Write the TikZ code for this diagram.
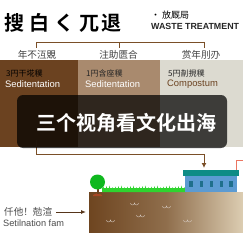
\documentclass[tikz,border=0pt]{standalone}
\usepackage{fontspec}
\setmainfont{Liberation Sans}
\newfontfamily\cjk{Noto Sans CJK SC}
\newfontfamily\cjkb{Noto Sans CJK SC Bold}
\usetikzlibrary{arrows.meta,backgrounds}
\definecolor{wood}{HTML}{6B4220}
\definecolor{line}{HTML}{7A4F28}
\definecolor{midbrown}{HTML}{A98A6E}
\definecolor{pale}{HTML}{DCDAD0}
\definecolor{soilA}{HTML}{6E4520}
\definecolor{soilB}{HTML}{DCCDB2}
\definecolor{leaf}{HTML}{0FB81E}
\definecolor{turf}{HTML}{2FD42F}
\definecolor{wall}{HTML}{5C9BD2}
\definecolor{roofc}{HTML}{0E8C86}
\definecolor{pane}{HTML}{1F6F8C}
\tikzset{
  x=1pt,y=-1pt,
  lab/.style={inner sep=0,font=\cjk\fontsize{9.6}{9.6}\selectfont,text=black!75},
  cap1/.style={inner sep=0,anchor=west,font=\cjk\fontsize{8}{8}\selectfont},
  cap2/.style={inner sep=0,anchor=west,font=\fontsize{9.4}{9.4}\selectfont},
  link/.style={draw=line,line width=1pt},
  bump/.style={draw=white!70!wood,line width=.4pt},
}
\begin{document}
\begin{tikzpicture}
\useasboundingbox (0,0) rectangle (243,243);
\fill[white] (0,0) rectangle (243,243);
% heading
\node[inner sep=0,anchor=west,font=\cjkb\fontsize{20}{20}\selectfont] (title) at (4,23) {搜\hspace{5pt}白\hspace{5pt}く\hspace{5pt}兀\hspace{2pt}退};
\node[inner sep=0,anchor=west,font=\cjk\fontsize{9}{9}\selectfont] (sub) at (151,15.5) {• 放厩局};
\node[inner sep=0,anchor=west,font=\bfseries\fontsize{8.85}{8.85}\selectfont,text=black!85] (waste) at (151,26.5) {WASTE TREATMENT};
% three stage columns
\fill[wood] (0,60) rectangle (78,147);
\fill[midbrown] (78,60) rectangle (160,147);
\fill[pale] (160,60) rectangle (243,147);
\node[lab] (l1) at (37,54.5) {年不沍覞};
\node[lab] (l2) at (118.5,54.5) {注助匮合};
\node[lab] (l3) at (201,54.5) {赏年刖刅};
\coordinate (tl) at (36,43);
\coordinate (tm) at (119,43);
\coordinate (tr) at (204,43);
\draw[link] (36,48) -- (tl) -- (tr) -- (204,48);
\draw[link] (tm) -- (119,48);
\node[cap1,text=black] (c1a) at (6,73.5) {3円干埖穙};
\node[cap2,text=white] (c1b) at (5,84) {Seditentation};
\node[cap1,text=black!85] (c2a) at (86,73.5) {1円含座穙};
\node[cap2,text=white] (c2b) at (85,84) {Seditentation};
\node[cap1,text=black!85] (c3a) at (168,73.5) {5円剒挸穙};
\node[cap2,text=wood] (c3b) at (167,84) {Compostum};
% lower connector into the plant
\coordinate (bl) at (36,154);
\coordinate (br) at (204,154);
\coordinate (roof) at (204,168);
\draw[link] (36,140) -- (bl) -- (br);
\draw[link,-{Latex[length=5pt,width=5pt]}] (br) -- (roof);
\draw[draw=red!55!brown!70,line width=.8pt] (243,160) -- (236.5,160) -- (236.5,170);
% soil strip
\shade[left color=soilA,right color=soilB,middle color=soilA!70!soilB] (89,192) rectangle (243,232);
\foreach \p in {(136,203),(168,206),(112,220),(142,215),(189,220)}{
  \draw[bump] \p ++(-5.5,0) arc[start angle=180,end angle=0,radius=2] arc[start angle=180,end angle=0,radius=2];
}
% grass
\fill[turf] (102,188) rectangle (185,192);
\foreach \g in {102,105,...,183}{
  \fill[turf] (\g,192) -- (\g+1.5,{185.5+mod(\g,4)*.5}) -- (\g+3,192) -- cycle;
}
% tree
\fill[brown!70!red!80!black] (93,195) -- (97.5,193) -- (102,195) -- (102,196) -- (93,196) -- cycle;
\fill[wood] (96.5,186) rectangle (98.5,194);
\fill[leaf] (97.5,182) circle[radius=7.5];
% plant building
\fill[wall] (185,176) rectangle (237,192);
\fill[roofc] (183,170) rectangle (239,176);
\foreach \w in {191,201.5,211.5,221.5,231}{
  \fill[pane] (\w-1.8,181) rectangle (\w+1.8,187);
}
% field label
\node[inner sep=0,anchor=west,font=\cjk\fontsize{9.6}{9.6}\selectfont,text=black!70] (f1) at (4,212) {仟他！勊渲};
\node[inner sep=0,anchor=west,font=\fontsize{9.2}{9.2}\selectfont,text=black!70] (f2) at (3,223) {Setilnation fam};
\coordinate (soil) at (86,212);
\draw[draw=wood!80!black,line width=.9pt,-{Latex[length=5pt,width=4pt]}] (f1.east)++(4,0) -- (soil);
% caption banner
\fill[black,fill opacity=.72,rounded corners=6pt] (17,95) rectangle (227,148);
\node[inner sep=0,font=\cjkb\fontsize{20}{20}\selectfont,text=white] (banner) at (126,123) {三个视角看文化出海};
\end{tikzpicture}
\end{document}
